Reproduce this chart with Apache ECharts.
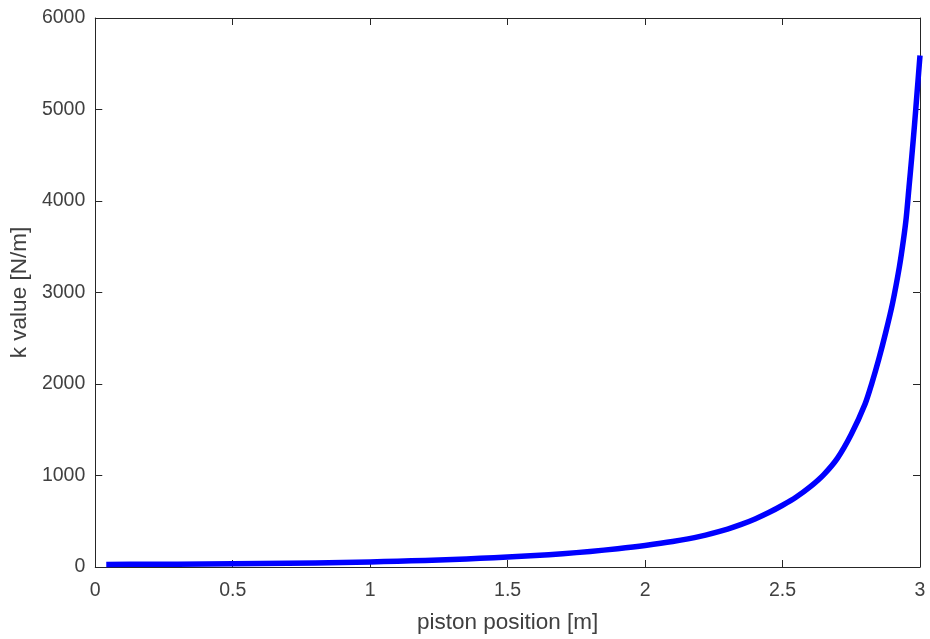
<!DOCTYPE html>
<html>
<head>
<meta charset="utf-8">
<script src="https://cdn.jsdelivr.net/npm/echarts@6/dist/echarts.min.js"></script>
<style>
  html, body { margin: 0; padding: 0; background: #ffffff; }
  #chart { width: 930px; height: 639px; }
</style>
</head>
<body>
<div id="chart"></div>
<script>
// Piston position [m] and spring stiffness k [N/m]
const positions = [
  0.04, 0.2, 0.4, 0.6, 0.8, 1.0, 1.1, 1.2, 1.3, 1.4, 1.5, 1.6, 1.7, 1.8, 1.9,
  2.0, 2.1, 2.2, 2.3, 2.35, 2.4, 2.45, 2.5, 2.55, 2.6, 2.65, 2.7, 2.75, 2.8,
  2.825, 2.85, 2.875, 2.9, 2.925, 2.94, 2.95, 2.96, 2.97, 2.98, 2.99, 2.995, 3.0
];
const kValues = [
  28, 30, 33, 38, 45, 56, 63, 72, 82, 95, 110, 125, 145, 170, 200,
  235, 278, 335, 415, 465, 525, 595, 675, 765, 875, 1010, 1190, 1450, 1780,
  2010, 2270, 2560, 2880, 3280, 3580, 3820, 4150, 4480, 4830, 5210, 5400, 5590
];
const xTicks = { min: 0, max: 3, step: 0.5 };
const yTicks = { min: 0, max: 6000, step: 1000 };

const axisColor = '#262626';
const textColor = '#404040';
const fontFamily = 'Liberation Sans, Arial, Helvetica, sans-serif';

const chart = echarts.init(document.getElementById('chart'), null, { renderer: 'canvas' });

const boxAxis = (extra) => Object.assign({
  type: 'value',
  axisLine: { show: true, onZero: false, lineStyle: { color: axisColor, width: 1 } },
  axisTick: { show: true, inside: true, length: 7, lineStyle: { color: axisColor, width: 1 } },
  splitLine: { show: false }
}, extra);

chart.setOption({
  animation: false,
  backgroundColor: '#ffffff',
  grid: { left: 95, right: 10, top: 18, bottom: 72, containLabel: false },
  xAxis: [
    boxAxis({
      position: 'bottom',
      min: xTicks.min, max: xTicks.max, interval: xTicks.step,
      name: 'piston position [m]',
      nameLocation: 'middle',
      nameGap: 44,
      nameTextStyle: { color: textColor, fontSize: 22.5, fontFamily: fontFamily },
      axisLabel: { color: textColor, fontSize: 19.5, fontFamily: fontFamily, margin: 14 }
    }),
    boxAxis({
      position: 'top',
      min: xTicks.min, max: xTicks.max, interval: xTicks.step,
      axisLabel: { show: false }
    })
  ],
  yAxis: [
    boxAxis({
      position: 'left',
      min: yTicks.min, max: yTicks.max, interval: yTicks.step,
      name: 'k value [N/m]',
      nameLocation: 'middle',
      nameGap: 45,
      nameRotate: 90,
      nameTextStyle: { color: textColor, fontSize: 22.5, fontFamily: fontFamily },
      axisLabel: {
        color: textColor, fontSize: 19.5, fontFamily: fontFamily, margin: 10,
        formatter: (v) => String(v)
      }
    }),
    boxAxis({
      position: 'right',
      min: yTicks.min, max: yTicks.max, interval: yTicks.step,
      axisLabel: { show: false }
    })
  ],
  series: [{
    type: 'line',
    xAxisIndex: 0,
    yAxisIndex: 0,
    data: positions.map((x, i) => [x, kValues[i]]),
    showSymbol: false,
    smooth: 0.25,
    lineStyle: { color: '#0000ff', width: 5.5, cap: 'butt', join: 'round' },
    clip: false
  }]
});
</script>
</body>
</html>
